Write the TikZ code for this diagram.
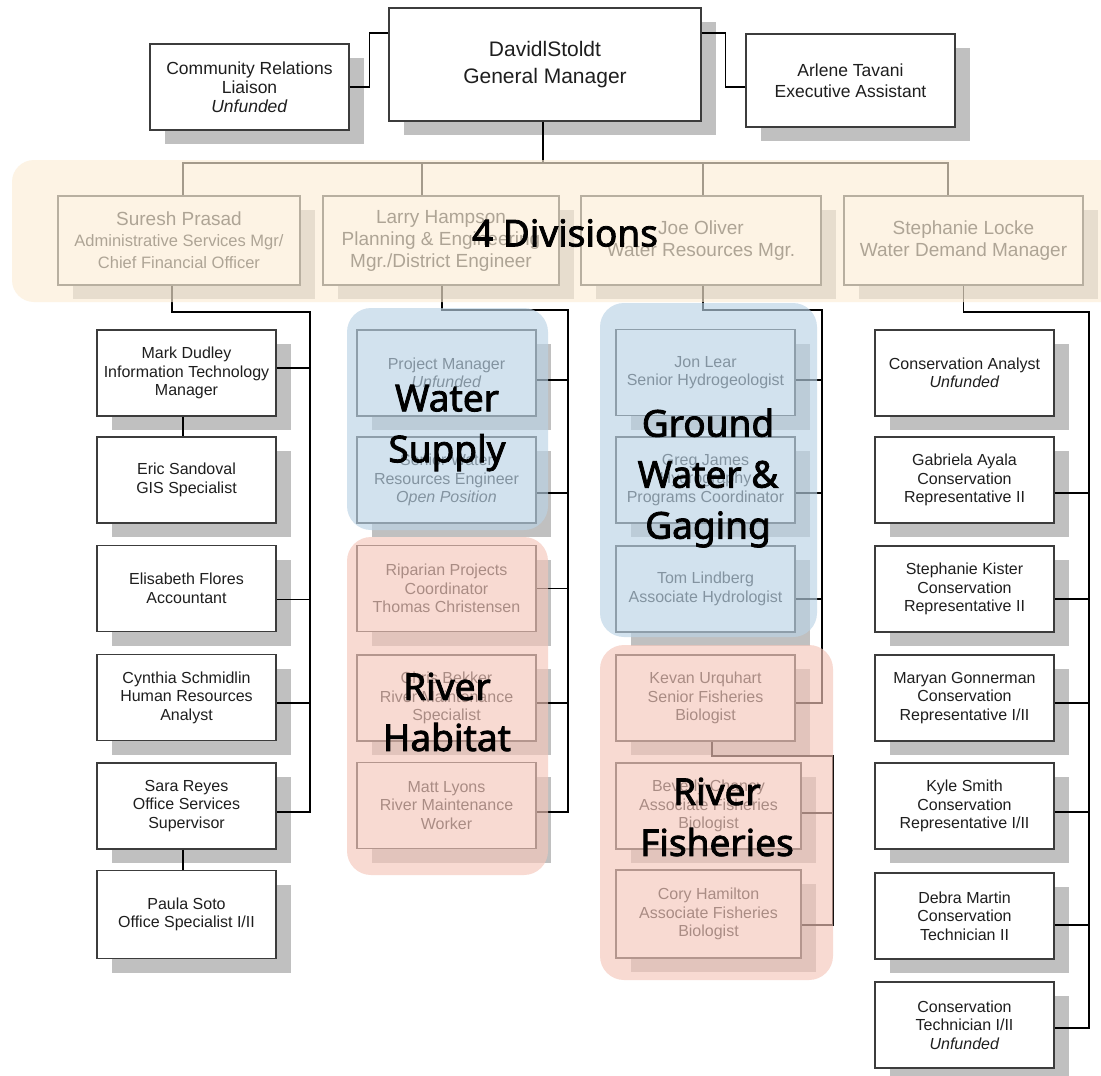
\documentclass[tikz,border=0pt]{standalone}
\usepackage{fontspec}
\setmainfont{Liberation Sans}
\newfontfamily\lblfont{Noto Sans}[FakeBold=2.2]
\usetikzlibrary{shadows,calc}
\definecolor{shadowgray}{RGB}{192,192,192}
\definecolor{boxline}{RGB}{60,60,60}
\definecolor{textcol}{RGB}{30,30,30}
\definecolor{bandcol}{RGB}{252,237,214}
\definecolor{bluecol}{RGB}{186,211,230}
\definecolor{pinkcol}{RGB}{245,199,187}
\begin{document}
\begin{tikzpicture}[x=1pt,y=-1pt,
  box/.style={draw=boxline, line width=1.1pt, fill=white,
    general shadow={fill=shadowgray, shadow xshift=15pt, shadow yshift=-14pt},
    align=center, inner sep=1pt, text=textcol,
    font=\fontsize{16}{18.5}\selectfont},
  colbox/.style={box, minimum width=179pt, minimum height=86pt},
  divbox/.style={box, minimum height=89pt, font=\fontsize{19}{22}\selectfont},
  conn/.style={draw=black, line width=1.3pt},
  overlay band/.style={fill=#1, fill opacity=0.65, draw=none, rounded corners=24pt},
  biglabel/.style={font=\lblfont\fontsize{37}{51}\selectfont, align=center, text=black, inner sep=0pt}
]
\useasboundingbox (0,0) rectangle (1101,1076);
\fill[white] (0,0) rectangle (1101,1076);

% ---- top row
\node[box, minimum width=312pt, minimum height=113pt, font=\fontsize{21}{27}\selectfont] (gm) at (545,64.5) {DavidlStoldt\\General Manager};
\node[box, minimum width=199pt, minimum height=86pt, font=\fontsize{17.5}{19}\selectfont] (cr) at (249.5,87) {Community Relations\\Liaison\\\textit{Unfunded}};
\node[box, minimum width=209pt, minimum height=93pt, font=\fontsize{17.5}{21}\selectfont] (arl) at (850.5,80.5) {Arlene Tavani\\Executive Assistant};

% ---- divisions
\node[divbox, minimum width=242pt] (suresh) at (179,240.5) {Suresh Prasad\\[-1pt]{\fontsize{16.5}{19}\selectfont Administrative Services Mgr/}\\{\fontsize{16.5}{19}\selectfont Chief Financial Officer}};
\node[divbox, minimum width=236pt] (larry) at (441,240.5) {Larry Hampson\\Planning \& Engineering\\Mgr./District Engineer};
\node[divbox, minimum width=240pt] (joe) at (701,240.5) {Joe Oliver\\Water Resources Mgr.};
\node[divbox, minimum width=239pt] (steph) at (963.5,240.5) {Stephanie Locke\\Water Demand Manager};

% ---- column 1
\node[colbox] (mark) at (186.5,373) {Mark Dudley\\Information Technology\\Manager};
\node[colbox] (eric) at (186.5,480) {Eric Sandoval\\GIS Specialist};
\node[colbox] (elis) at (186.5,588.5) {Elisabeth Flores\\Accountant};
\node[colbox] (cyn) at (186.5,697.5) {Cynthia Schmidlin\\Human Resources\\Analyst};
\node[colbox] (sara) at (186.5,806) {Sara Reyes\\Office Services\\Supervisor};
\node[colbox, minimum height=88pt] (paula) at (186.5,914.5) {Paula Soto\\Office Specialist I/II};

% ---- column 2
\node[colbox] (pm) at (446.5,373) {Project Manager\\\textit{Unfunded}};
\node[colbox] (swre) at (446.5,480) {Senior Water\\Resources Engineer\\\textit{Open Position}};
\node[colbox] (rip) at (446.5,588.5) {Riparian Projects\\Coordinator\\Thomas Christensen};
\node[colbox] (chris) at (446.5,698) {Chris Bekker\\River Maintenance\\Specialist};
\node[colbox] (matt) at (446.5,805.5) {Matt Lyons\\River Maintenance\\Worker};

% ---- column 3
\node[colbox] (jon) at (705.5,372.5) {Jon Lear\\Senior Hydrogeologist};
\node[colbox] (greg) at (705.5,480) {Greg James\\Hydrography\\Programs Coordinator};
\node[colbox] (tom) at (705.5,589) {Tom Lindberg\\Associate Hydrologist};
\node[colbox] (kevan) at (705.5,698) {Kevan Urquhart\\Senior Fisheries\\Biologist};
\node[colbox, minimum width=185pt] (bev) at (708.5,806) {Beverly Chaney\\Associate Fisheries\\Biologist};
\node[colbox, minimum width=185pt, minimum height=88pt] (cory) at (708.5,914) {Cory Hamilton\\Associate Fisheries\\Biologist};

% ---- column 4
\node[colbox] (ca) at (964.5,373) {Conservation Analyst\\\textit{Unfunded}};
\node[colbox] (gab) at (964.5,480) {Gabriela Ayala\\Conservation\\Representative II};
\node[colbox] (sk) at (964.5,589) {Stephanie Kister\\Conservation\\Representative II};
\node[colbox] (mar) at (964.5,698) {Maryan Gonnerman\\Conservation\\Representative I/II};
\node[colbox] (kyle) at (964.5,806) {Kyle Smith\\Conservation\\Representative I/II};
\node[colbox] (debra) at (964.5,916) {Debra Martin\\Conservation\\Technician II};
\node[colbox] (ct) at (964.5,1025) {Conservation\\Technician I/II\\\textit{Unfunded}};

% ---- connectors: top
\draw[conn] (cr.east) -- ++(20,0) |- ([yshift=31.5pt]gm.west);
\draw[conn] ([yshift=31.5pt]gm.east) -- ++(24,0) |- ([yshift=-6.5pt]arl.west);
\coordinate (hb) at (543,163);
\draw[conn] ([xshift=-2pt]gm.south) -- (hb);
\draw[conn] ([xshift=4pt]suresh.north) |- (hb);
\draw[conn] ([xshift=-15.5pt]steph.north) |- (hb);
\draw[conn] ([xshift=-19pt]larry.north) -- ([xshift=-19pt]larry.north |- hb);
\draw[conn] ([xshift=2pt]joe.north) -- ([xshift=2pt]joe.north |- hb);

% column 1
\coordinate (b1) at (310,312);
\draw[conn] ([xshift=-7pt]suresh.south) |- (b1) |- ([yshift=-6pt]sara.east);
\draw[conn] ([yshift=5pt]mark.east) -- ([yshift=5pt]mark.east -| b1);
\draw[conn] ([yshift=-11pt]elis.east) -- ([yshift=-11pt]elis.east -| b1);
\draw[conn] ([yshift=-5.5pt]cyn.east) -- ([yshift=-5.5pt]cyn.east -| b1);
\draw[conn] ([xshift=-3.5pt]mark.south) -- ([xshift=-3.5pt]eric.north);
\draw[conn] ([xshift=-3.5pt]sara.south) -- ([xshift=-3.5pt]paula.north);

% column 2
\coordinate (b2) at (568,310);
\draw[conn] ([xshift=1pt]larry.south) |- (b2) |- ([yshift=-6.5pt]matt.east);
\draw[conn] ([yshift=-7pt]pm.east) -- ([yshift=-7pt]pm.east -| b2);
\draw[conn] ([yshift=-13pt]swre.east) -- ([yshift=-13pt]swre.east -| b2);
\draw[conn] (rip.east) -- (rip.east -| b2);
\draw[conn] ([yshift=-5pt]chris.east) -- ([yshift=-5pt]chris.east -| b2);

% column 3
\coordinate (b3) at (822,310);
\draw[conn] ([xshift=2pt]joe.south) |- (b3) |- ([yshift=-5pt]kevan.east);
\draw[conn] ([yshift=-7.5pt]jon.east) -- ([yshift=-7.5pt]jon.east -| b3);
\draw[conn] ([yshift=-13pt]greg.east) -- ([yshift=-13pt]greg.east -| b3);
\draw[conn] ([yshift=-10pt]tom.east) -- ([yshift=-10pt]tom.east -| b3);
\coordinate (b3b) at (833,756);
\draw[conn] ([xshift=6.5pt]kevan.south) |- (b3b) |- ([yshift=-11pt]cory.east);
\draw[conn] ([yshift=-7pt]bev.east) -- ([yshift=-7pt]bev.east -| b3b);

% column 4
\coordinate (b4) at (1089,312);
\draw[conn] (steph.south) |- (b4) |- ([yshift=-3pt]ct.east);
\draw[conn] ([yshift=-13pt]gab.east) -- ([yshift=-13pt]gab.east -| b4);
\draw[conn] ([yshift=-10pt]sk.east) -- ([yshift=-10pt]sk.east -| b4);
\draw[conn] ([yshift=-5pt]mar.east) -- ([yshift=-5pt]mar.east -| b4);
\draw[conn] ([yshift=-6pt]kyle.east) -- ([yshift=-6pt]kyle.east -| b4);
\draw[conn] ([yshift=-9pt]debra.east) -- ([yshift=-9pt]debra.east -| b4);

% ---- translucent group overlays
\path[overlay band=bandcol, rounded corners=22pt] (12,160) rectangle (1130,302);
\path[overlay band=bluecol] (347,308) rectangle (548,530);
\path[overlay band=pinkcol] (347,537) rectangle (548,875);
\path[overlay band=bluecol] (600,303) rectangle (817,637);
\path[overlay band=pinkcol] (600,645) rectangle (833,980);

% ---- group labels
\node[biglabel] (lbldiv) at (565,233) {4 Divisions};
\node[biglabel] (lblws) at (447,428) {Water\\Supply};
\node[biglabel] (lblgw) at (708,478) {Ground\\Water \&\\Gaging};
\node[biglabel] (lblrh) at (447,712) {River\\Habitat};
\node[biglabel] (lblrf) at (717,817) {River\\Fisheries};
\end{tikzpicture}
\end{document}
